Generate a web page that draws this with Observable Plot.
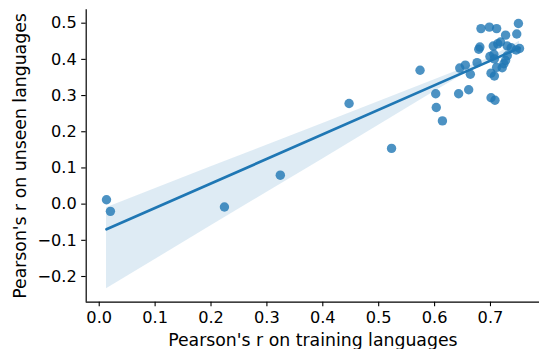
<!DOCTYPE html>
<html><head><meta charset="utf-8">
<script src="https://cdn.jsdelivr.net/npm/d3@7"></script>
<script src="https://cdn.jsdelivr.net/npm/@observablehq/plot@0.6"></script>
<style>body{margin:0;background:#fff}</style>
</head><body><div id="chart"></div>
<script>
// Pearson's r on training languages (x) and on unseen languages (y)
const trainR = [0.013, 0.020, 0.224, 0.324, 0.447, 0.523, 0.574, 0.602, 0.603, 0.614, 0.643, 0.661,
  0.645, 0.655, 0.664, 0.676, 0.679, 0.681, 0.683, 0.698, 0.711, 0.699, 0.706, 0.707, 0.705, 0.713,
  0.718, 0.727, 0.750, 0.747, 0.730, 0.737, 0.752, 0.746, 0.730, 0.727, 0.724, 0.711, 0.721, 0.701,
  0.707, 0.701, 0.708];
const unseenR = [0.012, -0.020, -0.008, 0.080, 0.278, 0.154, 0.370, 0.305, 0.267, 0.230, 0.305, 0.316,
  0.376, 0.384, 0.359, 0.391, 0.428, 0.434, 0.485, 0.489, 0.485, 0.408, 0.414, 0.401, 0.437, 0.443,
  0.448, 0.467, 0.499, 0.470, 0.437, 0.432, 0.430, 0.426, 0.410, 0.397, 0.388, 0.378, 0.377, 0.362,
  0.354, 0.294, 0.287];
// confidence band
const bandX    = [0.013, 0.2, 0.4, 0.6, 0.65, 0.7, 0.752];
const bandLow  = [-0.234, -0.060, 0.125, 0.311, 0.357, 0.392, 0.418];
const bandHigh = [-0.010, 0.103, 0.223, 0.344, 0.374, 0.405, 0.450];
const xTicks = [0.0, 0.1, 0.2, 0.3, 0.4, 0.5, 0.6, 0.7];
const yTicks = [-0.2, -0.1, 0.0, 0.1, 0.2, 0.3, 0.4, 0.5];
const xLabel = "Pearson's r on training languages";
const yLabel = "Pearson's r on unseen languages";
const xDomain = [-0.0233, 0.7877];
const yDomain = [-0.271, 0.537];

const points = trainR.map((x, i) => ({x, y: unseenR[i]}));
const band = bandX.map((x, i) => ({x, lo: bandLow[i], hi: bandHigh[i]}));
const C0 = "#1f77b4";

const chart = Plot.plot({
  width: 544, height: 349,
  marginLeft: 85.7, marginRight: 5, marginTop: 9.3, marginBottom: 47.3,
  style: {fontFamily: "DejaVu Sans", fontSize: "16.2px", background: "#fff", color: "#000"},
  x: {domain: xDomain},
  y: {domain: yDomain},
  marks: [
    Plot.dot(points, {x: "x", y: "y", r: 4.7, fill: C0, fillOpacity: 0.8, stroke: null}),
    Plot.areaY(band, {x: "x", y1: "lo", y2: "hi", fill: C0, fillOpacity: 0.15}),
    Plot.linearRegressionY(points, {x: "x", y: "y", stroke: C0, strokeWidth: 2.7, ci: 0}),
    Plot.axisX({ticks: xTicks, tickFormat: d3.format(".1f"), tickSize: 4.5, tickPadding: 5, label: null, strokeWidth: 1.1}),
    Plot.axisY({ticks: yTicks, tickFormat: d3.format(".1f"), tickSize: 4.5, tickPadding: 5, label: null, strokeWidth: 1.1}),
    Plot.ruleX([xDomain[0]], {stroke: "#000", strokeWidth: 1.2}),
    Plot.ruleY([yDomain[0]], {stroke: "#000", strokeWidth: 1.2}),
    Plot.text([xLabel], {frameAnchor: "bottom", dy: 38.7, textAnchor: "middle", lineAnchor: "middle", fontSize: 17.3, fill: "#000"}),
    Plot.text([yLabel], {frameAnchor: "left", rotate: -90, dx: -65.3, textAnchor: "middle", lineAnchor: "middle", fontSize: 17.3, fill: "#000"})
  ]
});
document.getElementById("chart").append(chart);
</script>
</body></html>
